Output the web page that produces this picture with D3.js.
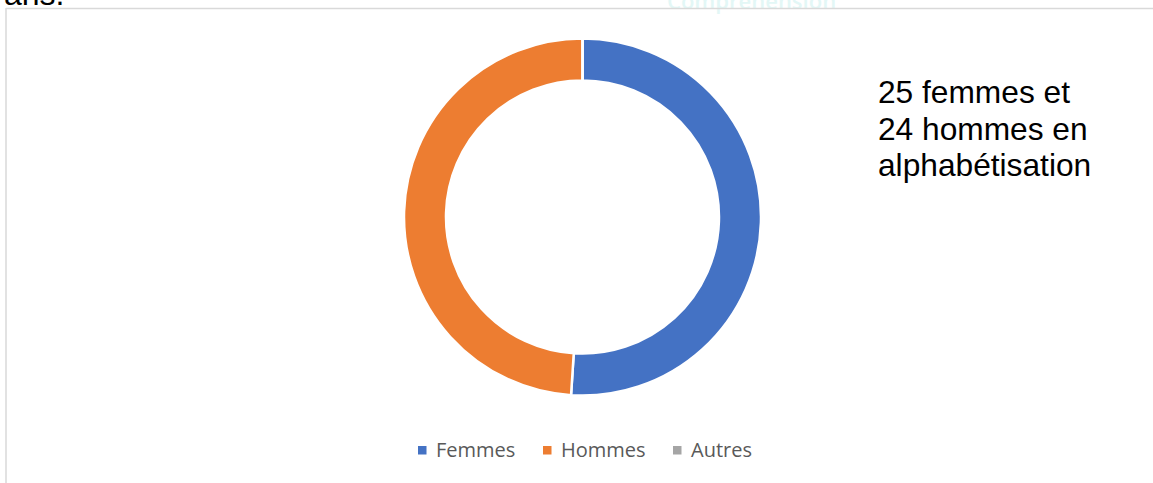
<!DOCTYPE html>
<html><head><meta charset="utf-8">
<script src="https://cdn.jsdelivr.net/npm/d3@7"></script>
<style>html,body{margin:0;padding:0;background:#fff;overflow:hidden}</style>
</head><body>
<svg id="c" width="1153" height="483"></svg>
<script>
const categories = ["Femmes", "Hommes", "Autres"];
const values = [25, 24, 0];
const colors = ["#4472C4", "#ED7D31", "#A5A5A5"];
const noteLines = ["25 femmes et", "24 hommes en", "alphabétisation"];

const svg = d3.select("#c");
// cut-off page text above the chart frame
svg.append("text").attr("x", 4).attr("y", 5).attr("font-family", "Liberation Sans, Arial").attr("font-size", 32).attr("fill", "#000").text("ans.");
svg.append("text").attr("x", 667).attr("y", 9).attr("font-family", "Open Sans").attr("font-size", 22).attr("font-weight", 600).attr("fill", "#e3f7f6").text("Compréhension");

// frame
svg.append("line").attr("x1", 6).attr("x2", 1153).attr("y1", 8.5).attr("y2", 8.5).attr("stroke", "#d9d9d9").attr("stroke-width", 1.5);
svg.append("line").attr("x1", 6).attr("x2", 6).attr("y1", 8).attr("y2", 483).attr("stroke", "#d9d9d9").attr("stroke-width", 1.5);

const cx = 582.5, cy = 217, rOuter = 178.5, rInner = 136.5;
const pie = d3.pie().sort(null).value(d => d)(values);
const arc = d3.arc().innerRadius(rInner).outerRadius(rOuter);
svg.append("g").attr("transform", `translate(${cx},${cy})`)
  .selectAll("path").data(pie).join("path")
  .attr("d", arc).attr("fill", (d, i) => colors[i])
  .attr("stroke", "#fff").attr("stroke-width", 2.5);

// annotation
const note = svg.append("text").attr("font-family", "Liberation Sans, Arial").attr("font-size", 31.7).attr("fill", "#000");
noteLines.forEach((t, i) => note.append("tspan").attr("x", 878).attr("y", 103 + i * 36.5).text(t));

// legend
const legX = [418, 543, 673];
const leg = svg.append("g").attr("font-family", "Open Sans").attr("font-size", 20).attr("fill", "#595959");
categories.forEach((c, i) => {
  leg.append("rect").attr("x", legX[i]).attr("y", 446).attr("width", 8.5).attr("height", 8.5).attr("fill", colors[i]);
  leg.append("text").attr("x", legX[i] + 18).attr("y", 457).text(c);
});
</script>
</body></html>
